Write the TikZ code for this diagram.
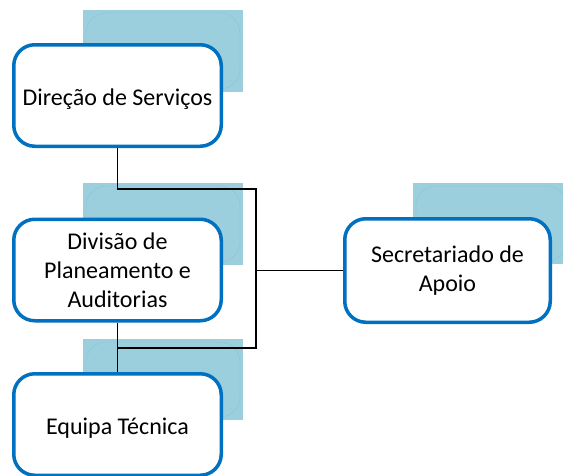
\documentclass[tikz,border=0pt]{standalone}
\usepackage{fontspec}
\setmainfont{Carlito}
\definecolor{boxblue}{HTML}{0070C0}
\definecolor{backblue}{HTML}{9BCFDD}
\definecolor{backedge}{HTML}{8CC3D3}
\tikzset{
  orgbox/.style={draw=boxblue, line width=3.5pt, fill=white, rounded corners=21pt,
    minimum width=207.5pt, minimum height=101.5pt, align=center, inner sep=2pt,
    font=\fontsize{24}{29}\selectfont, text=black},
  backrect/.style={fill=backblue, draw=none},
  backinner/.style={draw=backedge, line width=0.4pt, rounded corners=20pt},
  conn/.style={draw=black, line width=1.2pt}
}
\newcommand{\lowertext}[1]{\raisebox{-3.5pt}[\height][\depth]{#1}}
\begin{document}
\begin{tikzpicture}[x=1pt, y=-1pt]
\useasboundingbox (0,0) rectangle (563,475);
\clip (0,0) rectangle (563,475);
% background rectangles
\fill[backrect] (83,10) rectangle (243,92);
\draw[backinner] (86,13) rectangle (240,89);
\fill[backrect] (83,183) rectangle (243,265);
\draw[backinner] (86,186) rectangle (240,262);
\fill[backrect] (83,339) rectangle (243,420);
\draw[backinner] (86,342) rectangle (240,417);
\fill[backrect] (413,183) rectangle (570,264);
\draw[backinner] (416,186) rectangle (567,261);
% junction coordinates
\coordinate (jt) at (256,189);
\coordinate (jb) at (256,348);
% nodes
\node[orgbox] (d1) at (117.5,95.5) {\lowertext{Direção de Serviços}};
\node[orgbox] (d2) at (117.5,270) {Divisão de\\Planeamento e\\Auditorias};
\node[orgbox] (d3) at (117.5,424.5) {\lowertext{Equipa Técnica}};
\node[orgbox, minimum width=205.5pt, minimum height=103.5pt] (sec) at (447.5,270.5) {Secretariado de\\Apoio};
% connectors
\draw[conn] (d1.south) |- (jt) -- (jb) -- (jb -| d3.north);
\draw[conn] (d2.south) -- (d3.north);
\draw[conn] (sec.west) -- (sec.west -| jt);
\end{tikzpicture}
\end{document}
